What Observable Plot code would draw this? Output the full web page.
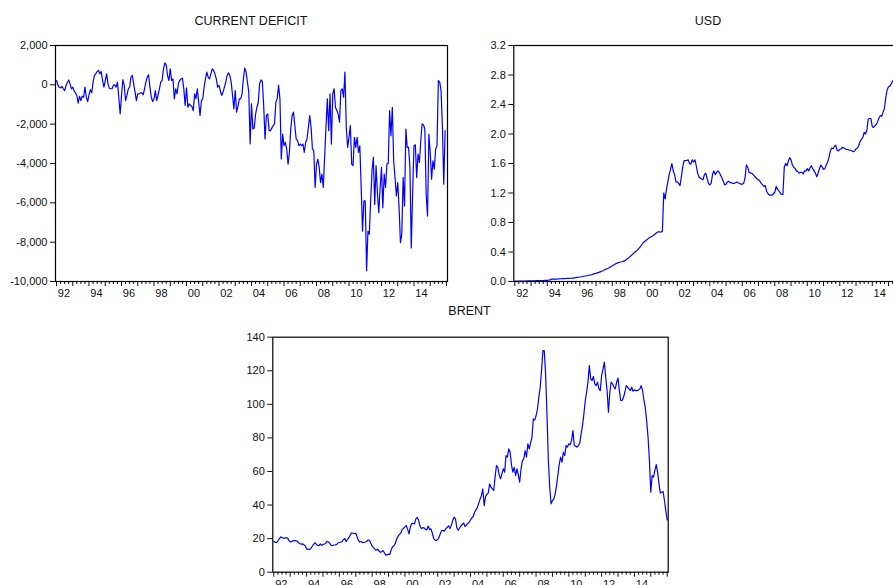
<!DOCTYPE html>
<html><head><meta charset="utf-8">
<script src="https://cdn.jsdelivr.net/npm/d3@7"></script>
<script src="https://cdn.jsdelivr.net/npm/@observablehq/plot@0.6"></script>
<style>
html,body{margin:0;padding:0;background:#fff;overflow:hidden;}
#page{position:relative;width:893px;height:585px;overflow:hidden;background:#fff;font-family:"Liberation Sans",Arial,sans-serif;}
.panel{position:absolute;}
.title{position:absolute;font-size:12.5px;line-height:1;color:#111;white-space:nowrap;transform:translateX(-50%);}
</style></head><body><div id="page"></div>
<script>
// Monthly series, starting January 1992 (one row per year)
const deficit = [
  220, 0, -120, -150, -80, -200, -290, -50, 120, 250, 50, -200,
  -120, -300, -410, -540, -935, -580, -800, -580, -630, -120, -630, -850,
  -510, -240, -410, 140, 475, 560, 680, 730, 560, 680, 220, -120,
  220, 560, 50, -170, -200, -200, -30, 0, -120, 135, -630, -1480,
  -540, 270, -30, -800, -540, -200, -120, 390, 475, 50, -370, -800,
  -460, -460, -410, -410, -510, -200, 135, 390, 510, -120, -630, -850,
  -710, -290, -800, -510, -200, 135, 220, 815, 1120, 1020, 475, 220,
  815, 220, 300, -715, -200, -460, 50, 220, 300, 340, -200, -1050,
  -150, -1140, -970, -1050, -1100, -1310, -460, -700, -200, -880, -1560, -800,
  -710, -120, 300, 650, 390, 300, 560, 815, 730, 560, 300, -120,
  -30, -290, -540, -370, -120, 135, 475, 610, 475, 135, -540, -1220,
  -290, -1390, -1100, -710, -710, -460, 300, 850, 650, 135, -370, -3000,
  -970, -2240, -2200, -1500, -1140, -900, 50, 255, 170, -1050, -2750, -1560,
  -1480, -2330, -2330, -2200, -2070, -1990, -880, -700, -30, -710, -3770, -2500,
  -3090, -2920, -3260, -4030, -3430, -2240, -1560, -1390, -2070, -2750, -2840, -3090,
  -3010, -3090, -3010, -3430, -2920, -2750, -2160, -1560, -2160, -3260, -3340, -5220,
  -4030, -3780, -4200, -4970, -4540, -5220, -3690, -2160, -710, -2330, -460, -3010,
  -460, -200, -1140, -1310, -1480, -1900, -290, -200, -630, 650, -2160, -3180,
  -2670, -2070, -4030, -4110, -2670, -3180, -2670, -3440, -3100, -5220, -7440, -5900,
  -5900, -9450, -7440, -7600, -5900, -4370, -3690, -6080, -4120, -5500, -6500, -5220,
  -4200, -6250, -4540, -5220, -4030, -4000, -1310, -2590, -1140, -3860, -4710, -5650,
  -4970, -6250, -8030, -7600, -4710, -6160, -2250, -3180, -3180, -4200, -8290, -5500,
  -3100, -3050, -4710, -3520, -3950, -2840, -1990, -2030, -2250, -5560, -6670, -2500,
  -3440, -4800, -3860, -4290, -3270, -3100, 220, 140, -290, -2160, -5050, -2330
];
const usd = [
  0.005, 0.005, 0.006, 0.006, 0.006, 0.007, 0.007, 0.007, 0.007, 0.008, 0.008, 0.008,
  0.009, 0.009, 0.010, 0.010, 0.011, 0.011, 0.012, 0.012, 0.013, 0.013, 0.014, 0.014,
  0.016, 0.018, 0.021, 0.033, 0.034, 0.031, 0.031, 0.032, 0.034, 0.036, 0.037, 0.038,
  0.039, 0.040, 0.041, 0.042, 0.043, 0.044, 0.045, 0.047, 0.049, 0.052, 0.055, 0.058,
  0.061, 0.064, 0.067, 0.071, 0.075, 0.078, 0.081, 0.085, 0.089, 0.094, 0.100, 0.106,
  0.110, 0.117, 0.124, 0.131, 0.138, 0.146, 0.155, 0.164, 0.172, 0.180, 0.190, 0.203,
  0.212, 0.225, 0.236, 0.244, 0.252, 0.258, 0.264, 0.268, 0.273, 0.280, 0.292, 0.308,
  0.320, 0.336, 0.354, 0.370, 0.387, 0.403, 0.418, 0.435, 0.455, 0.480, 0.505, 0.530,
  0.545, 0.560, 0.575, 0.590, 0.600, 0.610, 0.620, 0.635, 0.650, 0.665, 0.675, 0.672,
  0.67, 0.68, 1.20, 1.12, 1.25, 1.35, 1.45, 1.52, 1.60, 1.50, 1.45, 1.35,
  1.35, 1.33, 1.30, 1.42, 1.55, 1.64, 1.64, 1.64, 1.65, 1.60, 1.59, 1.65,
  1.62, 1.65, 1.57, 1.47, 1.42, 1.40, 1.39, 1.38, 1.45, 1.47, 1.40, 1.33,
  1.31, 1.33, 1.45, 1.50, 1.45, 1.48, 1.50, 1.48, 1.44, 1.40, 1.36, 1.31,
  1.32, 1.35, 1.36, 1.34, 1.34, 1.33, 1.33, 1.34, 1.35, 1.34, 1.33, 1.32,
  1.32, 1.33, 1.40, 1.58, 1.55, 1.48, 1.47, 1.47, 1.45, 1.43, 1.41, 1.39,
  1.38, 1.36, 1.33, 1.31, 1.29, 1.30, 1.22, 1.19, 1.17, 1.17, 1.17, 1.19,
  1.21, 1.29, 1.25, 1.23, 1.20, 1.18, 1.18, 1.55, 1.60, 1.57, 1.63, 1.68,
  1.65, 1.58, 1.55, 1.53, 1.50, 1.49, 1.47, 1.48, 1.48, 1.46, 1.50, 1.50,
  1.53, 1.50, 1.54, 1.57, 1.53, 1.50, 1.47, 1.42, 1.47, 1.53, 1.58, 1.55,
  1.52, 1.53, 1.58, 1.62, 1.68, 1.77, 1.81, 1.80, 1.83, 1.85, 1.78, 1.77,
  1.79, 1.80, 1.82, 1.81, 1.80, 1.79, 1.79, 1.78, 1.78, 1.77, 1.76, 1.77,
  1.80, 1.81, 1.84, 1.90, 1.93, 1.95, 2.02, 2.00, 2.05, 2.20, 2.21, 2.21,
  2.10, 2.09, 2.11, 2.13, 2.17, 2.22, 2.25, 2.24, 2.30, 2.35, 2.50, 2.60,
  2.64, 2.65, 2.68, 2.72, 2.72
];
const brent = [
  18.3, 17.9, 17.6, 18.6, 19.9, 21.0, 20.6, 20.3, 20.3, 20.4, 20.5, 19.0,
  18.0, 18.2, 18.7, 18.9, 18.8, 18.6, 17.6, 17.1, 16.7, 16.9, 16.3, 15.7,
  13.9, 13.6, 13.6, 14.0, 15.2, 16.5, 17.5, 16.8, 16.0, 15.8, 16.9, 16.0,
  16.5, 16.8, 17.3, 18.3, 18.0, 17.2, 16.0, 15.9, 16.2, 16.3, 16.5, 17.5,
  17.7, 18.0, 18.2, 19.5, 20.0, 18.3, 19.5, 20.7, 22.2, 23.5, 23.2, 23.0,
  23.2, 21.0, 18.8, 18.0, 18.3, 17.6, 17.8, 18.0, 18.3, 19.2, 19.0, 17.3,
  15.5, 14.6, 13.7, 13.1, 13.7, 12.6, 11.9, 12.2, 12.9, 11.5, 10.2, 10.3,
  10.8, 10.6, 13.5, 15.2, 15.8, 17.2, 19.9, 21.5, 22.5, 23.4, 25.4, 26.2,
  27.0, 27.8, 25.5, 22.8, 27.0, 29.0, 29.0, 28.8, 31.8, 32.6, 31.0, 27.5,
  26.0, 26.5, 26.4, 25.5, 25.2, 27.5, 25.4, 25.8, 23.5, 20.2, 19.1, 18.9,
  19.5, 20.9, 23.2, 25.0, 24.8, 24.5, 26.0, 26.8, 27.6, 26.0, 28.0, 31.0,
  32.8, 31.8, 26.5, 25.0, 26.3, 27.6, 28.4, 29.4, 27.2, 28.0, 29.0, 29.8,
  31.2, 32.2, 33.2, 35.7, 37.1, 38.5, 41.0, 43.5, 45.7, 49.7, 39.7, 45.0,
  46.5, 47.1, 52.6, 50.6, 49.8, 48.7, 56.6, 63.5, 62.5, 58.0, 55.6, 58.6,
  61.6, 59.6, 69.5, 68.5, 73.5, 71.5, 64.0, 59.6, 62.5, 57.6, 61.6, 58.0,
  53.6, 61.6, 66.5, 67.5, 72.5, 68.5, 76.5, 73.5, 77.0, 80.4, 91.3, 90.7,
  93.3, 97.0, 104.0, 110.0, 120.1, 132.0, 132.0, 118.1, 94.3, 66.5, 50.6, 40.7,
  42.7, 43.7, 46.7, 51.6, 58.0, 64.5, 68.5, 65.5, 71.5, 69.5, 75.5, 74.5,
  76.5, 76.0, 78.5, 84.4, 75.5, 75.0, 74.5, 75.5, 76.9, 82.4, 87.4, 94.0,
  102.0, 107.2, 113.2, 123.1, 115.2, 114.2, 116.6, 112.2, 111.2, 113.2, 109.2, 108.2,
  117.1, 121.0, 125.1, 116.1, 108.2, 95.3, 107.2, 113.2, 112.2, 110.5, 109.2, 113.2,
  115.6, 108.2, 102.3, 102.3, 104.0, 107.2, 111.2, 110.2, 109.2, 108.2, 110.2, 107.8,
  108.6, 108.2, 108.2, 108.5, 109.2, 111.2, 108.2, 102.3, 98.0, 90.0, 80.4, 66.5,
  47.7, 57.6, 56.6, 60.6, 64.1, 59.6, 52.6, 47.1, 47.7, 48.1, 42.7, 36.7,
  31.2
];
const yearLabels = ["92","94","96","98","00","02","04","06","08","10","12","14"];
const deficitTicks = [2000, 0, -2000, -4000, -6000, -8000, -10000];
const usdTicks = [0, 0.4, 0.8, 1.2, 1.6, 2.0, 2.4, 2.8, 3.2];
const brentTicks = [0, 20, 40, 60, 80, 100, 120, 140];

const page = document.getElementById("page");

function makePanel(values, o) {
  const data = values.map((v, i) => ({m: i, v}));
  const jan = d3.range(0, 289, 12);
  const quarters = d3.range(0, 289, 3).filter(m => m % 12 !== 0);
  const labelPos = yearLabels.map((_, i) => 24 * i + 5.5);
  const labelOf = new Map(labelPos.map((p, i) => [p, yearLabels[i]]));
  const svg = Plot.plot({
    width: o.width, height: o.height,
    marginLeft: o.mL, marginRight: o.mR, marginTop: o.mT, marginBottom: o.mB,
    style: {fontFamily: "'Liberation Sans', Arial, sans-serif", fontSize: "11px", color: "#111", background: "transparent", overflow: "visible"},
    x: {domain: [-0.75, 288.75], label: null},
    y: {domain: o.yDomain, label: null},
    marks: [
      Plot.axisY({ticks: o.yTicks, tickFormat: o.yFormat, tickSize: 5, tickPadding: 3, anchor: "left", label: null}),
      Plot.axisX({ticks: quarters, tickSize: 3, tickFormat: () => "", anchor: "bottom", label: null}),
      Plot.axisX({ticks: jan, tickSize: 5, tickFormat: () => "", anchor: "bottom", label: null}),
      Plot.axisX({ticks: labelPos, tickSize: 0, tickPadding: 8, tickFormat: d => labelOf.get(d), anchor: "bottom", label: null}),
      Plot.line(data, {x: "m", y: "v", stroke: "#0000ff", strokeWidth: 1.2}),
      Plot.frame({stroke: "#000", strokeWidth: 1.2})
    ]
  });
  svg.classList.add("panel");
  svg.style.left = o.left + "px";
  svg.style.top = o.top + "px";
  page.appendChild(svg);
  const t = document.createElement("div");
  t.className = "title";
  t.textContent = o.title;
  t.style.left = o.titleX + "px";
  t.style.top = o.titleY + "px";
  page.appendChild(t);
}

makePanel(deficit, {title: "CURRENT DEFICIT", titleX: 251, titleY: 14.5,
  left: 0, top: 0, width: 460, height: 310, mL: 55, mR: 13, mT: 45, mB: 29,
  yDomain: [-10000, 2000], yTicks: deficitTicks, yFormat: d => d.toLocaleString("en-US")});
makePanel(usd, {title: "USD", titleX: 708, titleY: 14.5,
  left: 450, top: 0, width: 470, height: 310, mL: 63.3, mR: 14.7, mT: 45, mB: 29,
  yDomain: [0, 3.2], yTicks: usdTicks, yFormat: d => d.toFixed(1)});
makePanel(brent, {title: "BRENT", titleX: 469.5, titleY: 305,
  left: 215, top: 300, width: 470, height: 310, mL: 57.3, mR: 17.3, mT: 36.7, mB: 38.3,
  yDomain: [0, 140], yTicks: brentTicks, yFormat: d => String(d)});
</script>
</body></html>
